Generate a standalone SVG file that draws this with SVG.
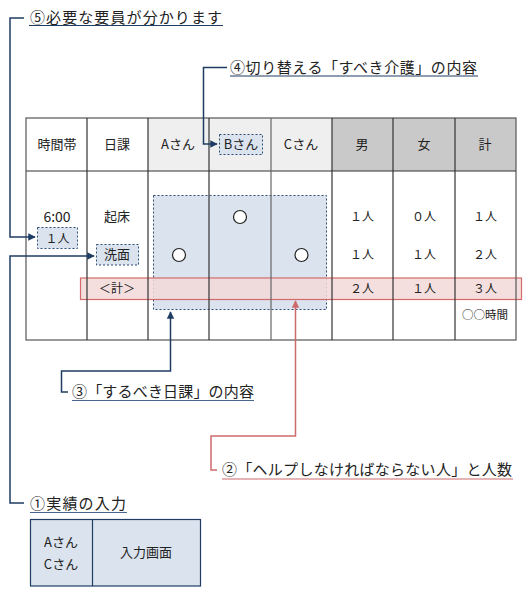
<svg xmlns="http://www.w3.org/2000/svg" width="527" height="592" viewBox="0 0 527 592">
<style>
text{font-family:"Noto Sans CJK JP","Noto Sans",sans-serif;fill:#222}
.t{font-size:13px;text-anchor:middle}
.n{font-size:12px;text-anchor:middle}
.lb{font-size:15px}
.grid{stroke:#333;stroke-width:1.2;fill:none}
.nav{stroke:#1f3d63;stroke-width:1.5;fill:none}
.red{stroke:#cd6b6b;stroke-width:1.5;fill:none}
.dash{fill:#dae3ee;stroke:#2c4a72;stroke-width:1;stroke-dasharray:2 2}
</style>
<defs>
<marker id="an" viewBox="0 0 10 10" refX="9" refY="5" markerWidth="5" markerHeight="5" orient="auto"><path d="M0,0L10,5L0,10z" fill="#1f3d63"/></marker>
<marker id="ar" viewBox="0 0 10 10" refX="9" refY="5" markerWidth="5" markerHeight="5" orient="auto"><path d="M0,0L10,5L0,10z" fill="#cd6b6b"/></marker>
</defs>
<g id="table">
<rect x="26" y="118" width="490" height="222" fill="#fff"/>
<rect x="148" y="118" width="184" height="53" fill="#efefef"/>
<rect x="332" y="118" width="184" height="53" fill="#c9c9c9"/>
<rect id="blue-area" class="dash" x="153.5" y="195.5" width="173" height="114"/>
<rect id="red-band" x="80.5" y="278" width="441" height="21.5" fill="#f2d9d8" stroke="#d46a6a" stroke-width="1.2" fill-opacity="0.85"/>
<g class="grid">
<rect x="26" y="118" width="490" height="222" stroke="#555"/>
<line x1="26" y1="171" x2="516" y2="171"/>
<line x1="87" y1="118" x2="87" y2="340"/>
<line x1="148" y1="118" x2="148" y2="340"/>
<line x1="209" y1="118" x2="209" y2="340"/>
<line x1="271" y1="118" x2="271" y2="340" stroke="#666"/>
<line x1="332" y1="118" x2="332" y2="340"/>
<line x1="393" y1="118" x2="393" y2="340"/>
<line x1="455" y1="118" x2="455" y2="340"/>
</g>
<text class="t" x="57" y="149">時間帯</text>
<text class="t" x="117" y="149">日課</text>
<text class="t" x="178" y="149">Aさん</text>
<rect class="dash" x="219.5" y="134.5" width="43" height="20"/>
<text class="t" x="241" y="149">Bさん</text>
<text class="t" x="301" y="149">Cさん</text>
<text class="t" x="362" y="149">男</text>
<text class="t" x="424" y="149">女</text>
<text class="t" x="485" y="149">計</text>
<text class="t" x="57" y="222" style="font-size:14px">6:00</text>
<rect class="dash" x="37.5" y="227.5" width="40" height="21"/>
<text class="n" x="57.5" y="243">１人</text>
<text class="t" x="117" y="221">起床</text>
<rect class="dash" x="96.5" y="244.5" width="42" height="20.5"/>
<text class="t" x="117" y="259">洗面</text>
<text class="n" x="117" y="293">＜計＞</text>
<circle cx="240" cy="217" r="6.5" fill="#fff" stroke="#222" stroke-width="1.2"/>
<circle cx="179" cy="255" r="6.5" fill="#fff" stroke="#222" stroke-width="1.2"/>
<circle cx="301.5" cy="255" r="6.5" fill="#fff" stroke="#222" stroke-width="1.2"/>
<text class="n" x="362" y="221">１人</text>
<text class="n" x="424" y="221">０人</text>
<text class="n" x="485" y="221">１人</text>
<text class="n" x="362" y="259">１人</text>
<text class="n" x="424" y="259">１人</text>
<text class="n" x="485" y="259">２人</text>
<text class="n" x="362" y="293">２人</text>
<text class="n" x="424" y="293">１人</text>
<text class="n" x="485" y="293">３人</text>
<text class="t" x="485" y="319" style="font-size:11.5px">○○時間</text>
</g>
<g id="connectors">
<path class="nav" d="M24 18H10V237H35" marker-end="url(#an)"/>
<path class="nav" d="M24 503H10V256H94" marker-end="url(#an)"/>
<path class="nav" d="M227 67.5H203.5V144H217" marker-end="url(#an)"/>
<path class="nav" d="M68 392H61.5V371H170.5V312" marker-end="url(#an)"/>
<path class="red" d="M217 470H211V436H295.5V301" marker-end="url(#ar)"/>
</g>
<g id="label5">
<text class="lb" x="30" y="23" textLength="192">⑤必要な要員が分かります</text>
<line x1="29" y1="25.5" x2="223" y2="25.5" stroke="#1f3d63" stroke-width="1.2"/>
</g>
<g id="label4">
<text class="lb" x="230" y="73" textLength="247">④切り替える「すべき介護」の内容</text>
<line x1="230" y1="76" x2="478" y2="76" stroke="#1f3d63" stroke-width="1.2"/>
</g>
<g id="label3">
<text class="lb" x="72" y="397" textLength="182">③「するべき日課」の内容</text>
<line x1="72" y1="400.5" x2="254" y2="400.5" stroke="#4a6690" stroke-width="1.2"/>
</g>
<g id="label2">
<text class="lb" x="222" y="475" textLength="290">②「ヘルプしなければならない人」と人数</text>
<line x1="222" y1="479" x2="513" y2="479" stroke="#cd6b6b" stroke-width="1.2"/>
</g>
<g id="label1">
<text class="lb" x="30" y="509" textLength="96">①実績の入力</text>
<line x1="30" y1="512.5" x2="127" y2="512.5" stroke="#4a6690" stroke-width="1.2"/>
</g>
<g id="input-screen">
<rect x="30.5" y="519.5" width="170" height="66.5" fill="#dae3ee" stroke="#1f3d63" stroke-width="1.2"/>
<line x1="92.5" y1="519.5" x2="92.5" y2="586" stroke="#1f3d63" stroke-width="1.2"/>
<text class="t" x="61" y="547">Aさん</text>
<text class="t" x="61" y="569">Cさん</text>
<text class="t" x="146" y="557">入力画面</text>
</g>
</svg>
